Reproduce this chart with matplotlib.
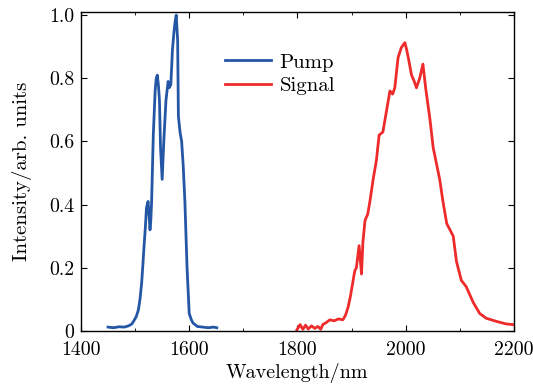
import matplotlib
matplotlib.use("Agg")
import matplotlib.pyplot as plt
from matplotlib.ticker import MultipleLocator, FixedLocator, FixedFormatter

plt.rcParams["font.family"] = "serif"
plt.rcParams["font.serif"] = ["cmr10", "DejaVu Serif"]
plt.rcParams["mathtext.fontset"] = "cm"
plt.rcParams["axes.unicode_minus"] = False

# pump spectrum
pump_nm = [1450, 1460, 1470, 1480, 1488, 1494, 1497, 1502, 1506, 1509, 1512, 1514,
           1516, 1519, 1521, 1524, 1526, 1527.5, 1529, 1530.5, 1533.6, 1537, 1539, 1541,
           1543, 1545, 1547, 1550, 1553, 1557, 1561, 1563, 1566, 1569, 1572, 1574,
           1576, 1578.6, 1580, 1583, 1586, 1589, 1592, 1596, 1600, 1604, 1607, 1615,
           1625, 1635, 1645, 1651]
pump_int = [0.012, 0.010, 0.013, 0.012, 0.016, 0.022, 0.03, 0.045, 0.066, 0.10, 0.15, 0.20,
            0.255, 0.33, 0.39, 0.41, 0.36, 0.32, 0.35, 0.41, 0.62, 0.76, 0.80, 0.81,
            0.78, 0.73, 0.58, 0.48, 0.60, 0.73, 0.79, 0.77, 0.78, 0.89, 0.95, 0.98,
            1.0, 0.92, 0.68, 0.63, 0.60, 0.52, 0.41, 0.20, 0.055, 0.035, 0.025, 0.014,
            0.012, 0.010, 0.012, 0.010]

# signal spectrum
signal_nm = [1799, 1805, 1810, 1815, 1820, 1826, 1832, 1838, 1843, 1847, 1852, 1860,
             1868, 1876, 1884, 1889, 1894, 1898, 1902, 1906, 1909, 1914, 1918.5, 1921,
             1925, 1930, 1934, 1940, 1946, 1951, 1958, 1965, 1971, 1976, 1980, 1986,
             1992, 1998.6, 2002, 2005, 2011, 2016, 2020, 2026, 2032, 2037, 2045, 2051,
             2057, 2063, 2069, 2076, 2082, 2088, 2094, 2103, 2112, 2125, 2137, 2149,
             2168, 2186, 2198]
signal_int = [0.003, 0.02, 0.005, 0.018, 0.006, 0.016, 0.008, 0.014, 0.005, 0.02, 0.025, 0.035,
              0.032, 0.038, 0.035, 0.05, 0.077, 0.11, 0.15, 0.19, 0.20, 0.27, 0.18, 0.28,
              0.35, 0.37, 0.41, 0.48, 0.54, 0.62, 0.63, 0.70, 0.76, 0.75, 0.77, 0.865,
              0.897, 0.913, 0.89, 0.865, 0.81, 0.79, 0.77, 0.80, 0.845, 0.77, 0.67, 0.58,
              0.53, 0.48, 0.41, 0.34, 0.32, 0.30, 0.22, 0.16, 0.14, 0.09, 0.055, 0.04,
              0.03, 0.022, 0.02]

x_ticks = [1400, 1600, 1800, 2000, 2200]
y_ticks = [0, 0.2, 0.4, 0.6, 0.8, 1.0]
y_labels = ["0", "0.2", "0.4", "0.6", "0.8", "1.0"]

fig = plt.figure(figsize=(5.33, 3.87), dpi=100)
ax = fig.add_axes([0.152, 0.145, 0.812, 0.824])

ax.plot(pump_nm, pump_int, color="#2456a6", lw=2.0, label="Pump")
ax.plot(signal_nm, signal_int, color="#ee2b2b", lw=2.0, label="Signal")

ax.set_xlim(1400, 2200)
ax.set_ylim(0, 1.01)
ax.xaxis.set_major_locator(FixedLocator(x_ticks))
ax.xaxis.set_minor_locator(MultipleLocator(100))
ax.yaxis.set_major_locator(FixedLocator(y_ticks))
ax.yaxis.set_major_formatter(FixedFormatter(y_labels))
ax.tick_params(which="both", direction="in", top=True, right=True, labelsize=14.3)
ax.tick_params(which="major", length=4)
ax.tick_params(which="minor", length=2.5)
ax.tick_params(axis="x", pad=7)
ax.tick_params(axis="y", pad=5)
for s in ax.spines.values():
    s.set_linewidth(1.0)

ax.set_xlabel("Wavelength/nm", fontsize=14.5, labelpad=3)
ax.set_ylabel("Intensity/arb. units", fontsize=15, labelpad=12)

ax.legend(loc="upper left", bbox_to_anchor=(0.29, 0.93), frameon=False,
          fontsize=15, handlelength=2.2, labelspacing=0.25, handletextpad=0.4)

fig.savefig("out.png", dpi=100)
